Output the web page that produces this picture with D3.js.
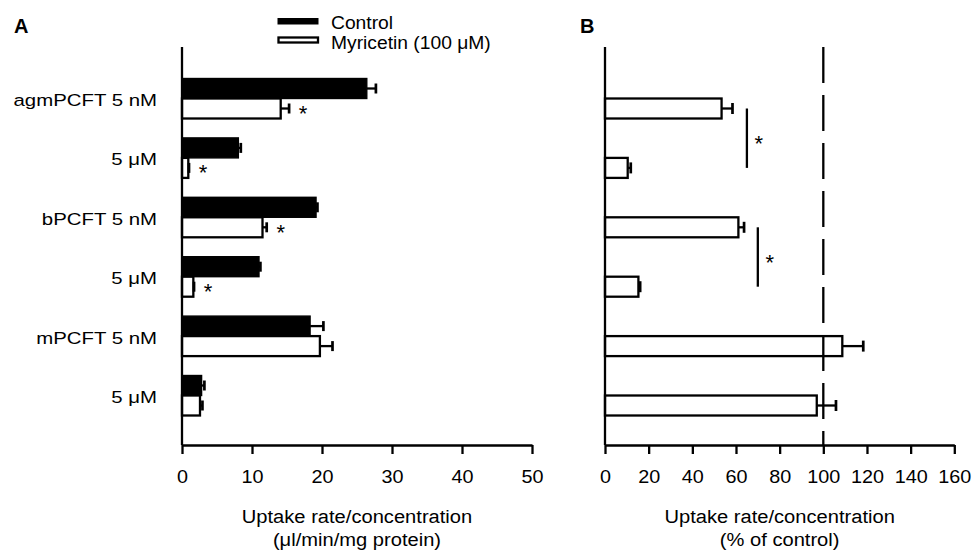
<!DOCTYPE html>
<html>
<head>
<meta charset="utf-8">
<script src="https://cdn.jsdelivr.net/npm/d3@7"></script>
<style>
  html, body { margin: 0; padding: 0; background: #fff; }
  svg { display: block; font-family: "Liberation Sans", Arial, Helvetica, sans-serif; }
</style>
</head>
<body>
<svg id="chart" width="973" height="552"></svg>
<script>
// ---------------- data ----------------
const categories = ["agmPCFT 5 nM", "5 \u03bcM", "bPCFT 5 nM", "5 \u03bcM", "mPCFT 5 nM", "5 \u03bcM"];
const seriesNames = ["Control", "Myricetin (100 \u03bcM)"];
const controlValues = [26.4, 8.05, 19.15, 11.0, 18.3, 2.8];
const controlErrors = [1.3, 0.35, 0.2, 0.2, 1.9, 0.4];
const myricetinValues = [14.1, 0.9, 11.5, 1.62, 19.7, 2.57];
const myricetinErrors = [1.2, 0.1, 0.6, 0.1, 1.8, 0.35];
const myricetinSignificant = [true, true, true, true, false, false];
const percentValues = [53.4, 10.4, 61.1, 15.3, 108.7, 97.0];
const percentErrors = [5.0, 1.4, 2.6, 0.8, 9.6, 8.8];
// significance brackets in panel B: [from category index, to category index, x position (% of control)]
const percentBrackets = [[0, 1, 65], [2, 3, 70]];
const ticksA = [0, 10, 20, 30, 40, 50];
const ticksB = [0, 20, 40, 60, 80, 100, 120, 140, 160];
const referenceLine = 100;
const titleA = ["Uptake rate/concentration", "(\u03bcl/min/mg protein)"];
const titleB = ["Uptake rate/concentration", "(% of control)"];

// ---------------- layout ----------------
const svg = d3.select("#chart");
const axisY = 445, axisTop = 47;
const barH = 20;
const y = d3.scalePoint().domain(d3.range(categories.length)).range([98.5, 395.5]);
const xA = d3.scaleLinear().domain([0, 50]).range([182, 532]);
const xB = d3.scaleLinear().domain([0, 160]).range([605, 954.3]);
const SW = 2.3;
const STAR = 22;

function stretchText(sel, x, yy, sx) {
  sel.attr("transform", `translate(${x},${yy}) scale(${sx},1)`);
  return sel;
}

// ---------------- Panel A ----------------
const gA = svg.append("g");
// control bars
gA.selectAll("rect.ctrl").data(controlValues).join("rect")
  .attr("class", "ctrl")
  .attr("x", xA(0)).attr("y", (d, i) => y(i) - barH)
  .attr("width", d => xA(d) - xA(0)).attr("height", barH)
  .attr("fill", "#000").attr("stroke", "#000").attr("stroke-width", SW * 0.6);
// myricetin bars
gA.selectAll("rect.myr").data(myricetinValues).join("rect")
  .attr("class", "myr")
  .attr("x", xA(0)).attr("y", (d, i) => y(i))
  .attr("width", d => xA(d) - xA(0)).attr("height", barH)
  .attr("fill", "#fff").attr("stroke", "#000").attr("stroke-width", SW);

function errorBars(g, scale, vals, errs, offset, capH) {
  vals.forEach((v, i) => {
    const yc = y(i) + offset;
    g.append("line").attr("x1", scale(v)).attr("x2", scale(v + errs[i]))
      .attr("y1", yc).attr("y2", yc).attr("stroke", "#000").attr("stroke-width", SW);
    g.append("line").attr("x1", scale(v + errs[i])).attr("x2", scale(v + errs[i]))
      .attr("y1", yc - capH / 2).attr("y2", yc + capH / 2).attr("stroke", "#000").attr("stroke-width", SW + 0.4);
  });
}
errorBars(gA, xA, controlValues, controlErrors, -barH / 2, 10);
errorBars(gA, xA, myricetinValues, myricetinErrors, barH / 2, 10);

// stars
myricetinValues.forEach((v, i) => {
  if (!myricetinSignificant[i]) return;
  gA.append("text").attr("x", xA(v + myricetinErrors[i]) + 14).attr("y", y(i) + barH / 2 + 12.5)
    .attr("text-anchor", "middle").attr("font-size", STAR).text("*");
});

// axes
const axA = d3.axisBottom(xA).tickValues(ticksA).tickSize(9).tickSizeOuter(0).tickFormat(d3.format("d"));
const gAxA = gA.append("g").attr("transform", `translate(0,${axisY})`).call(axA);
gAxA.select(".domain").attr("stroke-width", SW);
gAxA.selectAll(".tick line").attr("stroke-width", SW);
gAxA.selectAll(".tick text").attr("font-size", 18).attr("y", 0).attr("dy", 0)
  .attr("font-family", "Liberation Sans, Arial, sans-serif")
  .attr("transform", "translate(0,37.5) scale(1.1,1)");
gA.append("line").attr("x1", xA(0)).attr("x2", xA(0)).attr("y1", axisTop).attr("y2", axisY)
  .attr("stroke", "#000").attr("stroke-width", SW);

// category labels
categories.forEach((c, i) => {
  stretchText(gA.append("text").attr("text-anchor", "end").attr("font-size", 17).text(c), 157, y(i) + 7.5, 1.2);
});

// axis title A
titleA.forEach((t, k) => {
  stretchText(svg.append("text").attr("text-anchor", "middle").attr("font-size", 19).text(t),
    (xA.range()[0] + xA.range()[1]) / 2, 523 + k * 23, 1.06);
});

// legend
const lg = svg.append("g");
lg.append("rect").attr("x", 278).attr("y", 18.5).attr("width", 40).attr("height", 5.5)
  .attr("fill", "#000").attr("stroke", "#000").attr("stroke-width", 1);
lg.append("rect").attr("x", 278.5).attr("y", 37.5).attr("width", 39.5).attr("height", 5)
  .attr("fill", "#fff").attr("stroke", "#000").attr("stroke-width", SW);
seriesNames.forEach((s, k) => {
  stretchText(lg.append("text").attr("font-size", 18).text(s), 331, 29 + k * 19.5, 1.07);
});

// panel letters
svg.append("text").attr("x", 14).attr("y", 33).attr("font-size", 20).attr("font-weight", "bold").text("A");
svg.append("text").attr("x", 580).attr("y", 33).attr("font-size", 20).attr("font-weight", "bold").text("B");

// ---------------- Panel B ----------------
const gB = svg.append("g");
gB.selectAll("rect.pct").data(percentValues).join("rect")
  .attr("class", "pct")
  .attr("x", xB(0)).attr("y", (d, i) => y(i))
  .attr("width", d => xB(d) - xB(0)).attr("height", barH)
  .attr("fill", "#fff").attr("stroke", "#000").attr("stroke-width", SW);
errorBars(gB, xB, percentValues, percentErrors, barH / 2, 11);

// reference dashed line
gB.append("line").attr("x1", xB(referenceLine)).attr("x2", xB(referenceLine))
  .attr("y1", axisTop).attr("y2", axisY)
  .attr("stroke", "#000").attr("stroke-width", SW).attr("stroke-dasharray", "36,12");

// brackets
percentBrackets.forEach(([a, b, xv]) => {
  const y1 = y(a) + barH / 2, y2 = y(b) + barH / 2;
  gB.append("line").attr("x1", xB(xv)).attr("x2", xB(xv)).attr("y1", y1).attr("y2", y2)
    .attr("stroke", "#000").attr("stroke-width", SW);
  gB.append("text").attr("x", xB(xv) + 12).attr("y", (y1 + y2) / 2 + 12.5)
    .attr("text-anchor", "middle").attr("font-size", STAR).text("*");
});

const axB = d3.axisBottom(xB).tickValues(ticksB).tickSize(9).tickSizeOuter(0).tickFormat(d3.format("d"));
const gAxB = gB.append("g").attr("transform", `translate(0,${axisY})`).call(axB);
gAxB.select(".domain").attr("stroke-width", SW);
gAxB.selectAll(".tick line").attr("stroke-width", SW);
gAxB.selectAll(".tick text").attr("font-size", 18).attr("y", 0).attr("dy", 0)
  .attr("font-family", "Liberation Sans, Arial, sans-serif")
  .attr("transform", "translate(0,37.5) scale(1.1,1)");
gB.append("line").attr("x1", xB(0)).attr("x2", xB(0)).attr("y1", axisTop).attr("y2", axisY)
  .attr("stroke", "#000").attr("stroke-width", SW);

titleB.forEach((t, k) => {
  stretchText(svg.append("text").attr("text-anchor", "middle").attr("font-size", 19).text(t),
    (xB.range()[0] + xB.range()[1]) / 2, 523 + k * 23, 1.06);
});
</script>
</body>
</html>
